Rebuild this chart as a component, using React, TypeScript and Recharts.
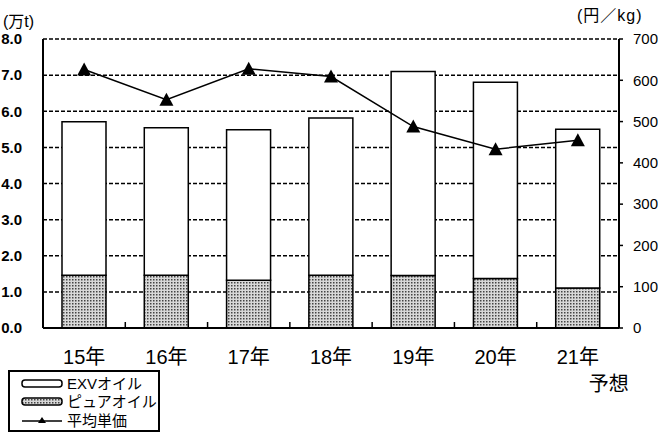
import React from 'react';
import { ComposedChart, Bar, Line, XAxis, YAxis, CartesianGrid } from 'recharts';

const years = ['15年', '16年', '17年', '18年', '19年', '20年', '21年'];
// 万t, stacked: pure oil at the bottom, EXV oil above it
const pureOil = [1.46, 1.46, 1.32, 1.46, 1.45, 1.37, 1.11];
const exvOil = [4.25, 4.08, 4.17, 4.35, 5.65, 5.43, 4.39];
// 円/kg
const avgPrice = [626, 553, 628, 609, 488, 433, 455];

const leftTicks = [0, 1, 2, 3, 4, 5, 6, 7, 8];
const rightTicks = [0, 100, 200, 300, 400, 500, 600, 700];

const FONT = '"Liberation Sans", Arial, "Noto Sans CJK JP", sans-serif';

const data = years.map((y, i) => ({
  year: y,
  pure: pureOil[i],
  exv: exvOil[i],
  price: avgPrice[i],
}));

const Triangle = (props: any) => {
  const { cx, cy } = props;
  if (cx == null || cy == null) return null;
  return <polygon points={`${cx},${cy - 7} ${cx - 7},${cy + 6} ${cx + 7},${cy + 6}`} fill="#000" />;
};

const YearTick = (props: any) => {
  const { x, y, payload, index, width } = props;
  const half = payload?.offset ?? width / years.length / 2;
  return (
    <g>
      {index > 0 && <line x1={x - half} x2={x - half} y1={y} y2={y - 6} stroke="#000" strokeWidth={1.5} />}
      <text x={x} y={y + 36} textAnchor="middle" fontSize={20} fontFamily={FONT} fill="#000">
        {payload.value}
      </text>
      {index === years.length - 1 && (
        <text x={x + 31} y={y + 63} textAnchor="middle" fontSize={20} fontFamily={FONT} fill="#000">
          予想
        </text>
      )}
    </g>
  );
};

function LegendBox() {
  return (
    <div
      style={{
        position: 'absolute',
        left: 8,
        top: 370,
        width: 148,
        height: 58,
        border: '2px solid #000',
        background: '#fff',
        fontFamily: FONT,
        fontSize: 15,
        color: '#000',
      }}
    >
      <svg width={148} height={58} style={{ position: 'absolute', left: 0, top: 0 }}>
        <defs>
          <pattern id="dotsLegend" width="3" height="3" patternUnits="userSpaceOnUse">
            <rect width="3" height="3" fill="#d8d8d8" />
            <rect width="1.5" height="1.5" fill="#444" />
          </pattern>
        </defs>
        <rect x={12} y={8} width={40} height={7} rx={3} fill="#fff" stroke="#000" strokeWidth={1.5} />
        <rect x={12} y={26} width={40} height={7} rx={3} fill="url(#dotsLegend)" stroke="#000" strokeWidth={1.5} />
        <line x1={12} x2={52} y1={49} y2={49} stroke="#000" strokeWidth={1.5} />
        <polygon points="32,45 28,51 36,51" fill="#000" />
        <text x={57} y={17} fontSize={15} fontFamily={FONT}>EXVオイル</text>
        <text x={57} y={35} fontSize={15} fontFamily={FONT}>ピュアオイル</text>
        <text x={57} y={54} fontSize={15} fontFamily={FONT}>平均単価</text>
      </svg>
    </div>
  );
}

export default function App() {
  return (
    <div style={{ position: 'absolute', left: 0, top: 0, width: 658, height: 438, background: '#fff' }}>
      <ComposedChart width={658} height={438} data={data} margin={{ top: 39, right: 0, left: 0, bottom: 80 }}>
        <defs>
          <pattern id="dots" width="3" height="3" patternUnits="userSpaceOnUse">
            <rect width="3" height="3" fill="#d8d8d8" />
            <rect width="1.5" height="1.5" fill="#444" />
          </pattern>
        </defs>
        <CartesianGrid yAxisId="left" vertical={false} stroke="#000" strokeWidth={1.5} strokeDasharray="4 2" />
        <XAxis
          dataKey="year"
          height={30}
          axisLine={{ stroke: '#000', strokeWidth: 2 }}
          tickLine={false}
          tickSize={0}
          tickMargin={0}
          tick={<YearTick />}
          interval={0}
        />
        <YAxis
          yAxisId="left"
          width={43}
          domain={[0, 8]}
          ticks={leftTicks}
          tickFormatter={(v: number) => v.toFixed(1)}
          axisLine={{ stroke: '#000', strokeWidth: 2 }}
          tickLine={false}
          tickSize={0}
          tickMargin={21}
          tick={{ fill: '#000', fontSize: 15, fontFamily: FONT, fontWeight: 'bold' }}
        />
        <YAxis
          yAxisId="right"
          orientation="right"
          width={39}
          domain={[0, 700]}
          ticks={rightTicks}
          axisLine={{ stroke: '#000', strokeWidth: 2 }}
          tickLine={{ stroke: '#000', strokeWidth: 1.5 }}
          tickSize={4}
          tickMargin={10}
          tick={{ fill: '#000', fontSize: 15, fontFamily: FONT, textAnchor: 'start' }}
        />
        <Bar yAxisId="left" dataKey="pure" stackId="a" barSize={44} fill="url(#dots)" stroke="#000" strokeWidth={1.5} isAnimationActive={false} />
        <Bar yAxisId="left" dataKey="exv" stackId="a" barSize={44} fill="#fff" stroke="#000" strokeWidth={1.5} isAnimationActive={false} />
        <Line
          yAxisId="right"
          dataKey="price"
          stroke="#000"
          strokeWidth={1.5}
          dot={<Triangle />}
          activeDot={false}
          isAnimationActive={false}
        />
        <text x={3} y={27} fontSize={16} fontFamily={FONT} fill="#000">(万t)</text>
        <text x={577} y={21} fontSize={16} fontFamily={FONT} fill="#000" letterSpacing={1}>(円／kg)</text>
      </ComposedChart>
      <LegendBox />
    </div>
  );
}
